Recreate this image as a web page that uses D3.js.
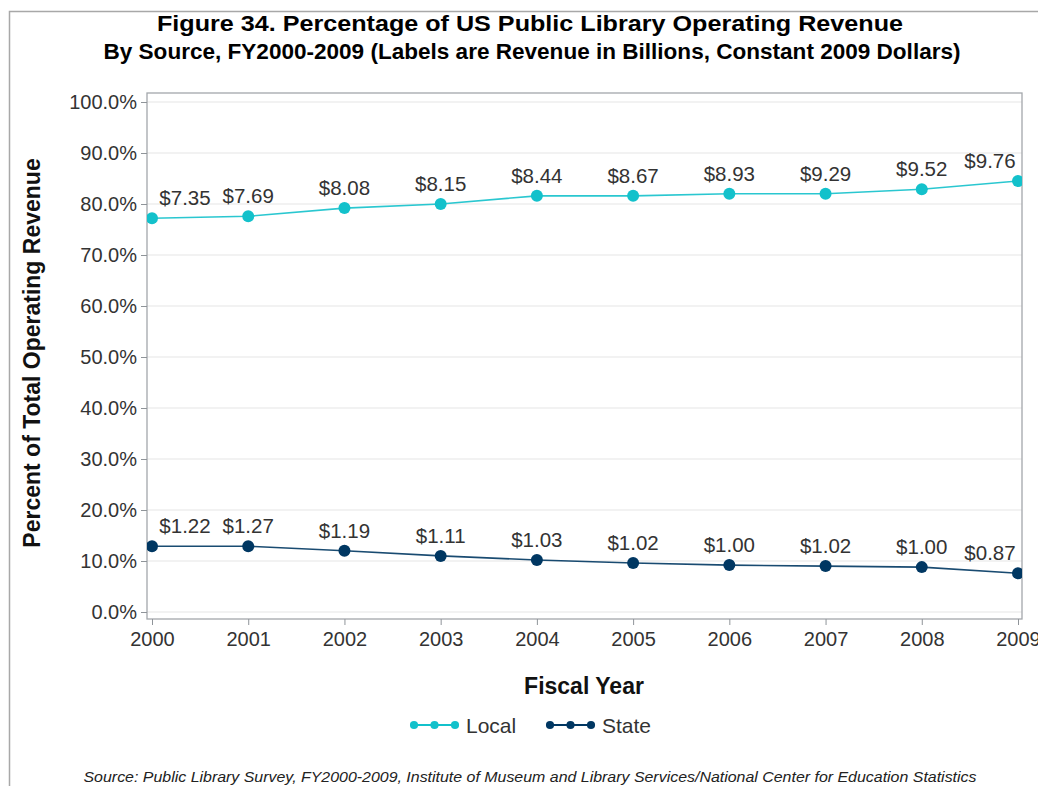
<!DOCTYPE html>
<html><head><meta charset="utf-8">
<script src="https://cdn.jsdelivr.net/npm/d3@7"></script>
<style>body{margin:0;background:#fff;}svg{display:block;font-family:"Liberation Sans",Arial,sans-serif;}</style>
</head><body><svg id="c" width="1038" height="786"></svg>
<script>
const years = [2000,2001,2002,2003,2004,2005,2006,2007,2008,2009];
const localPct = [77.2,77.6,79.2,80.0,81.6,81.6,82.0,82.0,82.9,84.5];
const statePct = [12.9,12.9,12.0,11.0,10.2,9.6,9.2,9.0,8.8,7.6];
const localLabels = ["$7.35","$7.69","$8.08","$8.15","$8.44","$8.67","$8.93","$9.29","$9.52","$9.76"];
const stateLabels = ["$1.22","$1.27","$1.19","$1.11","$1.03","$1.02","$1.00","$1.02","$1.00","$0.87"];
const yTicks = [0,10,20,30,40,50,60,70,80,90,100];
const seriesNames = ["Local","State"];
const seriesColors = ["#13c1cb","#003762"];

const svg = d3.select("#c");
// outer frame
svg.append("rect").attr("x",9.5).attr("y",11.5).attr("width",1100).attr("height",900)
  .attr("fill","none").attr("stroke","#a8a8a8").attr("stroke-width",1.5);

const pl=147, pr=1022, pt=93, pb=619;
const x = d3.scalePoint().domain(years).range([152,1018]);
const y = d3.scaleLinear().domain([0,100]).range([612,102]);

// gridlines
svg.append("g").selectAll("line").data(yTicks).join("line")
  .attr("x1",pl).attr("x2",pr).attr("y1",d=>y(d)).attr("y2",d=>y(d))
  .attr("stroke","#e6e6e6").attr("stroke-width",1.2);

// plot frame
svg.append("rect").attr("x",pl).attr("y",pt).attr("width",pr-pl).attr("height",pb-pt)
  .attr("fill","none").attr("stroke","#a3a7ab").attr("stroke-width",1.3);

// y axis
const ya = svg.append("g").attr("transform",`translate(${pl},0)`)
  .call(d3.axisLeft(y).tickValues(yTicks).tickFormat(d=>d.toFixed(1)+"%").tickSizeOuter(0).tickSize(6).tickPadding(4));
ya.select(".domain").remove();
ya.selectAll("line").attr("stroke","#8f9499");
ya.selectAll("text").attr("font-size",20).attr("fill","#333").attr("font-family","Liberation Sans, Arial, sans-serif");

// x axis
const xa = svg.append("g").attr("transform",`translate(0,${pb})`)
  .call(d3.axisBottom(x).tickSizeOuter(0).tickSize(6).tickPadding(7));
xa.select(".domain").remove();
xa.selectAll("line").attr("stroke","#8f9499");
xa.selectAll("text").attr("font-size",20).attr("fill","#333").attr("font-family","Liberation Sans, Arial, sans-serif");

const series = [
  {name:seriesNames[0], vals:localPct, labels:localLabels, color:seriesColors[0]},
  {name:seriesNames[1], vals:statePct, labels:stateLabels, color:seriesColors[1]}
];
const line = d3.line().x((d,i)=>x(years[i])).y(d=>y(d));
svg.append("defs").append("clipPath").attr("id","pc").append("rect")
  .attr("x",pl).attr("y",pt).attr("width",pr-pl).attr("height",pb-pt);
series.forEach(s=>{
  const g = svg.append("g").attr("clip-path","url(#pc)");
  g.append("path").attr("d",line(s.vals)).attr("fill","none").attr("stroke",s.color).attr("stroke-width",1.6).attr("opacity",0.9);
  g.selectAll("circle").data(s.vals).join("circle")
    .attr("cx",(d,i)=>x(years[i])).attr("cy",d=>y(d)).attr("r",6).attr("fill",s.color);
  svg.append("g").selectAll("text").data(s.vals).join("text")
    .attr("x",(d,i)=> i===0 ? x(years[i])+33 : (i===years.length-1 ? x(years[i])-28 : x(years[i])))
    .attr("y",d=>y(d)-13)
    .attr("text-anchor","middle").attr("font-size",20.5).attr("fill","#333")
    .text((d,i)=>s.labels[i]);
});

// titles
const title = svg.append("g").attr("font-weight","bold").attr("fill","#000").attr("text-anchor","middle");
title.append("text").attr("x",530).attr("y",31).attr("font-size",22).attr("textLength",746).attr("lengthAdjust","spacingAndGlyphs")
  .text("Figure 34. Percentage of US Public Library Operating Revenue");
title.append("text").attr("x",532).attr("y",59).attr("font-size",22).attr("textLength",857).attr("lengthAdjust","spacingAndGlyphs")
  .text("By Source, FY2000-2009 (Labels are Revenue in Billions, Constant 2009 Dollars)");

svg.append("text").attr("transform","translate(40,353) rotate(-90)").attr("text-anchor","middle")
  .attr("font-size",23).attr("font-weight","bold").attr("fill","#111").text("Percent of Total Operating Revenue");
svg.append("text").attr("x",584).attr("y",694).attr("text-anchor","middle")
  .attr("font-size",23).attr("font-weight","bold").attr("fill","#111").text("Fiscal Year");

// legend
const legX = [414,550];
series.forEach((s,k)=>{
  const g = svg.append("g").attr("transform",`translate(${legX[k]},725)`);
  g.append("line").attr("x1",0).attr("x2",41).attr("y1",0).attr("y2",0).attr("stroke",s.color).attr("stroke-width",1.8);
  [0,20.5,41].forEach(cx=>{
    g.append("path").attr("d",d3.symbol(d3.symbolCircle,52)()).attr("transform",`translate(${cx},0)`).attr("fill",s.color);
  });
  g.append("text").attr("x",52).attr("y",8).attr("font-size",21).attr("fill","#333").text(s.name);
});

svg.append("text").attr("x",530).attr("y",782).attr("text-anchor","middle").attr("font-style","italic")
  .attr("font-size",14).attr("fill","#222").attr("textLength",893).attr("lengthAdjust","spacingAndGlyphs")
  .text("Source: Public Library Survey, FY2000-2009, Institute of Museum and Library Services/National Center for Education Statistics");
</script></body></html>
